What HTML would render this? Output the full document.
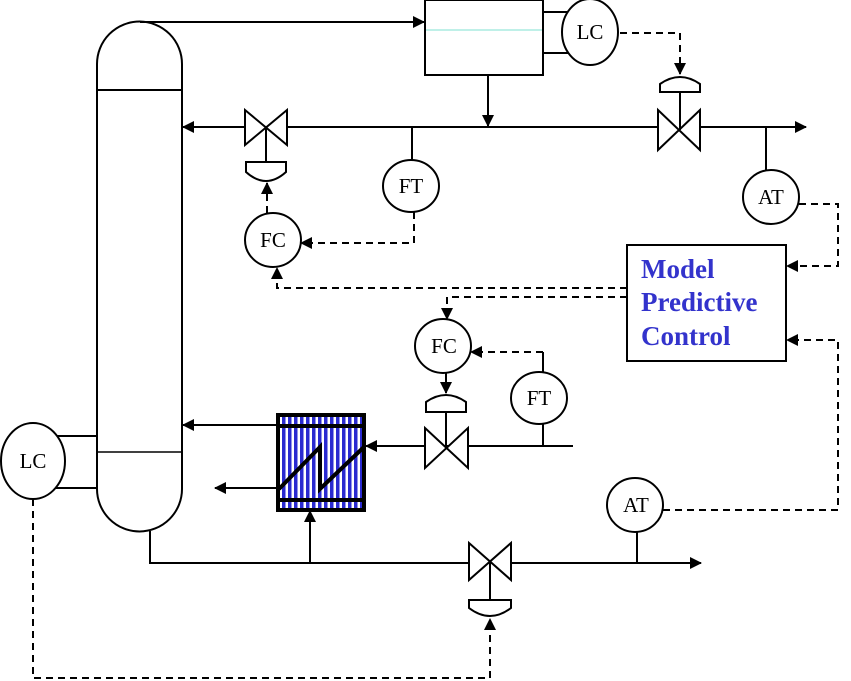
<!DOCTYPE html>
<html><head><meta charset="utf-8"><style>
html,body{margin:0;padding:0;background:#fff;}
svg{display:block;}
text{font-family:"Liberation Serif",serif;font-size:21px;fill:#000;text-anchor:middle;}
.m{font-family:"Liberation Serif",serif;font-weight:bold;font-size:27px;fill:#3333cc;text-anchor:start;}
</style></head><body>
<svg width="851" height="681" viewBox="0 0 851 681" xmlns="http://www.w3.org/2000/svg">
<defs>
<marker id="a" markerWidth="12" markerHeight="12" refX="11" refY="6" orient="auto" markerUnits="userSpaceOnUse"><path d="M0,0 L12,6 L0,12 z" fill="#000"/></marker>
<pattern id="st" width="6" height="10" patternUnits="userSpaceOnUse"><rect width="6" height="10" fill="#fff"/><rect width="3.5" height="10" fill="#2a2ad0"/></pattern>
</defs>
<g stroke="#000" stroke-width="2" fill="none">
<path d="M97,64 A42,42 0 0 1 182,64 L182,489 A42,42 0 0 1 97,489 Z" fill="#fff"/>
<line x1="97" y1="90" x2="182" y2="90"/>
<line x1="97" y1="452" x2="182" y2="452" stroke-width="1.5"/>
<path d="M140,22 L424,22" marker-end="url(#a)"/>
<rect x="425" y="0" width="118" height="75" fill="#fff"/>
<line x1="426" y1="30" x2="542" y2="30" stroke="#7fe0d0" stroke-width="1"/>
<line x1="543" y1="12" x2="574" y2="12"/><line x1="543" y1="53" x2="574" y2="53"/>
<ellipse cx="590" cy="32" rx="28" ry="33" fill="#fff"/>
<path d="M488,75 L488,126" marker-end="url(#a)"/>
<path d="M658,127 L183,127" marker-end="url(#a)"/>
<path d="M700,127 L806,127" marker-end="url(#a)"/>
<path d="M245,110 L287,145 L287,110 L245,145 Z" fill="#fff"/>
<line x1="266" y1="127" x2="266" y2="162"/>
<path d="M246,162 L286,162 L286,172 Q266,190 246,172 Z" fill="#fff"/>
<line x1="412" y1="127" x2="412" y2="160"/>
<ellipse cx="411" cy="186" rx="28" ry="26" fill="#fff"/>
<ellipse cx="273" cy="240" rx="28" ry="27" fill="#fff"/>
<path d="M658,110 L700,150 L700,110 L658,150 Z" fill="#fff"/>
<line x1="680" y1="92" x2="680" y2="130"/>
<path d="M660,92 L660,84 Q680,70 700,84 L700,92 Z" fill="#fff"/>
<line x1="766" y1="127" x2="766" y2="170"/>
<ellipse cx="771" cy="197" rx="28" ry="27" fill="#fff"/>
<rect x="627" y="245" width="159" height="116" fill="#fff"/>
<ellipse cx="443" cy="346" rx="28" ry="27" fill="#fff"/>
<path d="M446,373 L446,393" marker-end="url(#a)"/>
<ellipse cx="539" cy="398" rx="28" ry="26" fill="#fff"/>
<line x1="543" y1="372" x2="543" y2="352"/>
<line x1="543" y1="424" x2="543" y2="446"/>
<path d="M573,446 L366,446" marker-end="url(#a)"/>
<path d="M425,428 L468,468 L468,428 L425,468 Z" fill="#fff"/>
<line x1="446" y1="412" x2="446" y2="446"/>
<path d="M426,412 L426,402 Q446,388 466,402 L466,412 Z" fill="#fff"/>
<rect x="278" y="415" width="86" height="95" fill="url(#st)" stroke-width="4"/>
<line x1="278" y1="426" x2="364" y2="426" stroke-width="4"/>
<line x1="278" y1="500" x2="364" y2="500" stroke-width="4"/>
<path d="M279,489 L320,447 L320,489 L364,447" stroke-width="4"/>
<path d="M278,425 L183,425" marker-end="url(#a)"/>
<path d="M278,488 L215,488" marker-end="url(#a)"/>
<path d="M150,531 L150,563 L701,563" marker-end="url(#a)"/>
<path d="M310,563 L310,511" marker-end="url(#a)"/>
<path d="M469,543 L511,580 L511,543 L469,580 Z" fill="#fff"/>
<line x1="490" y1="561" x2="490" y2="600"/>
<path d="M469,600 L511,600 L511,608 Q490,624 469,608 Z" fill="#fff"/>
<line x1="637" y1="530" x2="637" y2="563"/>
<ellipse cx="635" cy="505" rx="28" ry="27" fill="#fff"/>
<line x1="55" y1="436" x2="97" y2="436"/><line x1="55" y1="488" x2="97" y2="488"/>
<ellipse cx="33" cy="461" rx="32" ry="38" fill="#fff"/>
</g>
<g stroke="#000" stroke-width="2" fill="none" stroke-dasharray="7,5">
<path d="M620,33 L680,33 L680,74" marker-end="url(#a)"/>
<path d="M414,212 L414,243 L301,243" marker-end="url(#a)"/>
<path d="M267,213 L267,183" marker-end="url(#a)"/>
<path d="M799,204 L838,204 L838,266 L787,266" marker-end="url(#a)"/>
<path d="M627,288 L277,288 L277,268" marker-end="url(#a)"/>
<path d="M627,297 L447,297 L447,319" marker-end="url(#a)"/>
<path d="M543,352 L471,352" marker-end="url(#a)"/>
<path d="M663,510 L838,510 L838,340 L787,340" marker-end="url(#a)"/>
<path d="M33,499 L33,678 L490,678 L490,619" marker-end="url(#a)"/>
</g>
<text x="590" y="39">LC</text>
<text x="411" y="193">FT</text>
<text x="273" y="247">FC</text>
<text x="771" y="204">AT</text>
<text x="444" y="353">FC</text>
<text x="539" y="405">FT</text>
<text x="636" y="512">AT</text>
<text x="33" y="468">LC</text>
<text class="m" x="641" y="278">Model</text>
<text class="m" x="641" y="311">Predictive</text>
<text class="m" x="641" y="345">Control</text>
</svg>
</body></html>
